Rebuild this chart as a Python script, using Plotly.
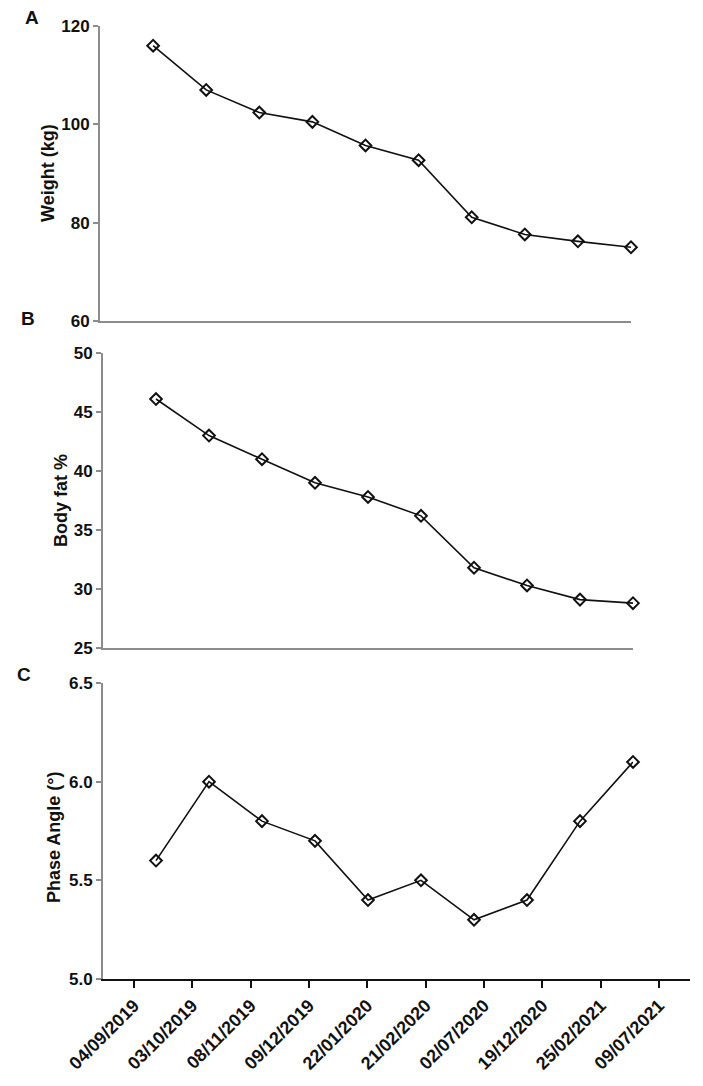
import plotly.graph_objects as go

# ---------------- data ----------------
dates = ["04/09/2019", "03/10/2019", "08/11/2019", "09/12/2019", "22/01/2020",
         "21/02/2020", "02/07/2020", "19/12/2020", "25/02/2021", "09/07/2021"]
weight_kg = [116.0, 107.0, 102.4, 100.5, 95.7, 92.7, 81.1, 77.6, 76.2, 75.0]
body_fat_pct = [46.1, 43.0, 41.0, 39.0, 37.8, 36.2, 31.8, 30.3, 29.1, 28.8]
phase_angle = [5.6, 6.0, 5.8, 5.7, 5.4, 5.5, 5.3, 5.4, 5.8, 6.1]

W, H = 703, 1086
OFF = 8  # page body margin of the html wrapper
FONT = "Liberation Sans, Arial, sans-serif"
GRAY = "#8c8c8c"
INK = "#111111"


def px(x):
    return (x - OFF) / W


def py(y):
    return 1 - (y - OFF) / H


fig = go.Figure()

line_style = dict(color=INK, width=1.6)
marker_style = dict(symbol="diamond-open", size=9, color=INK, line=dict(color=INK, width=2))

fig.add_trace(go.Scatter(x=dates, y=weight_kg, mode="lines+markers", line=line_style,
                         marker=marker_style, xaxis="x", yaxis="y", showlegend=False,
                         cliponaxis=False))
fig.add_trace(go.Scatter(x=dates, y=body_fat_pct, mode="lines+markers", line=line_style,
                         marker=marker_style, xaxis="x2", yaxis="y2", showlegend=False,
                         cliponaxis=False))
fig.add_trace(go.Scatter(x=dates, y=phase_angle, mode="lines+markers", line=line_style,
                         marker=marker_style, xaxis="x3", yaxis="y3", showlegend=False,
                         cliponaxis=False))
# carrier for the date labels axis of panel C
fig.add_trace(go.Scatter(x=dates, y=[None] * len(dates), mode="markers", xaxis="x4", yaxis="y3",
                         showlegend=False, hoverinfo="skip"))

tickfont = dict(family=FONT, size=17, color=INK, weight="bold")

hidden_x = dict(type="category", range=[-1, len(dates) - 1], showticklabels=False,
                ticks="", showgrid=False, zeroline=False, automargin=False)

yax_common = dict(showline=True, linecolor=GRAY, linewidth=2, ticks="outside",
                  tickcolor=GRAY, tickwidth=2, ticklen=5, showgrid=False, zeroline=False,
                  tickfont=tickfont, automargin=False)

fig.update_layout(
    width=W, height=H,
    margin=dict(l=0, r=0, t=0, b=0),
    paper_bgcolor="white", plot_bgcolor="rgba(0,0,0,0)",
    xaxis=dict(**hidden_x, domain=[px(100), px(631)], anchor="y",
               showline=True, linecolor=GRAY, linewidth=2),
    yaxis=dict(**yax_common, domain=[py(321), py(26)], anchor="x",
               range=[60, 120], tickvals=[60, 80, 100, 120]),
    xaxis2=dict(**hidden_x, domain=[px(103), px(633)], anchor="y2",
                showline=True, linecolor=GRAY, linewidth=2),
    yaxis2=dict(**yax_common, domain=[py(648), py(353)], anchor="x2",
                range=[25, 50], tickvals=[25, 30, 35, 40, 45, 50]),
    xaxis3=dict(**hidden_x, domain=[px(103), px(633)], anchor="y3", showline=False),
    yaxis3=dict(**yax_common, domain=[py(979), py(683)], anchor="x3",
                range=[5.0, 6.5], tickvals=[5.0, 5.5, 6.0, 6.5], tickformat=".1f"),
    xaxis4=dict(type="category", domain=[px(103), px(690)], anchor="y3",
                range=[-0.53, len(dates) - 0.47], showline=True, linecolor=INK, linewidth=2,
                ticks="outside", tickcolor=INK, tickwidth=2, ticklen=7,
                tickangle=-45, tickfont=dict(family=FONT, size=18, color=INK, weight="bold"),
                showgrid=False, zeroline=False, automargin=False),
)

ann_font = dict(family=FONT, size=18, color=INK, weight="bold")
titles = [("Weight (kg)", 48, 173), ("Body fat %", 61, 500), ("Phase Angle (°)", 54, 837)]
for text, x, y in titles:
    fig.add_annotation(text=text, x=px(x), y=py(y), xref="paper", yref="paper",
                       xanchor="center", yanchor="middle", textangle=-90,
                       showarrow=False, font=ann_font)

letters = [("A", 32, 18), ("B", 28, 318), ("C", 24, 674)]
for text, x, y in letters:
    fig.add_annotation(text=text, x=px(x), y=py(y), xref="paper", yref="paper",
                       xanchor="center", yanchor="middle", showarrow=False,
                       font=dict(family=FONT, size=19, color=INK, weight="bold"))

fig.write_html("out.html")
